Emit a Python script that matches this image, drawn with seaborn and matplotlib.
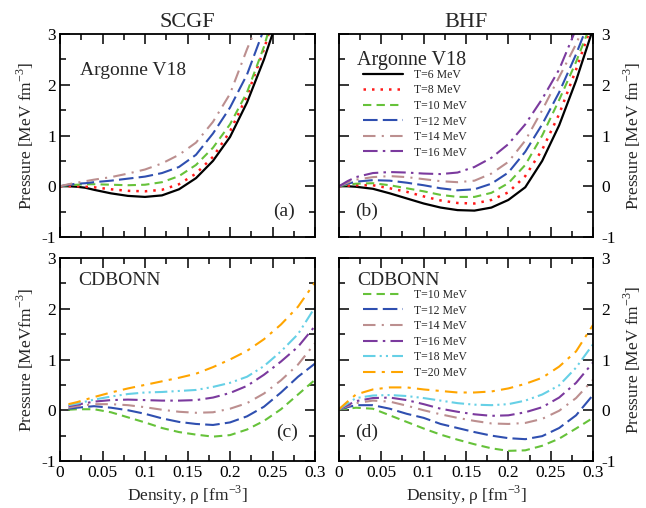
import matplotlib
matplotlib.use("Agg")
import matplotlib.pyplot as plt
from matplotlib.ticker import MultipleLocator, FuncFormatter
import seaborn as sns

rho_a = [0, 0.01, 0.02, 0.03, 0.04, 0.06, 0.08, 0.10, 0.12, 0.14, 0.16, 0.18, 0.20, 0.22, 0.24, 0.26]
rho_b = [0, 0.01, 0.02, 0.04, 0.06, 0.08, 0.10, 0.12, 0.14, 0.16, 0.18, 0.20, 0.22, 0.24, 0.26, 0.28, 0.30]
rho_c = [0.01, 0.02, 0.04, 0.06, 0.08, 0.10, 0.12, 0.14, 0.16, 0.18, 0.20, 0.22, 0.24, 0.26, 0.28, 0.30]
rho_d = [0, 0.01, 0.02, 0.04, 0.06, 0.08, 0.10, 0.12, 0.14, 0.16, 0.18, 0.20, 0.22, 0.24, 0.26, 0.28, 0.30]

temps_av18 = [6, 8, 10, 12, 14, 16]
temps_cdbonn = [10, 12, 14, 16, 18, 20]

# (a) SCGF, Argonne V18
scgf_av18_t6 = [0, 0, -0.01, -0.03, -0.07, -0.14, -0.19, -0.21, -0.18, -0.06, 0.16, 0.50, 0.97, 1.65, 2.50, 3.50]
scgf_av18_t8 = [0, 0, 0, -0.01, -0.02, -0.06, -0.09, -0.10, -0.07, 0.04, 0.25, 0.58, 1.08, 1.78, 2.70, 3.80]
scgf_av18_t10 = [0, 0.02, 0.03, 0.04, 0.04, 0.03, 0.02, 0.03, 0.08, 0.20, 0.42, 0.76, 1.22, 1.85, 2.75, 3.90]
scgf_av18_t12 = [0, 0.03, 0.05, 0.06, 0.08, 0.11, 0.15, 0.19, 0.26, 0.38, 0.62, 1.04, 1.55, 2.20, 3.10, 4.10]
scgf_av18_t14 = [0, 0.04, 0.07, 0.10, 0.13, 0.18, 0.25, 0.33, 0.45, 0.62, 0.86, 1.27, 1.82, 2.70, 3.50, 4.50]

# (b) BHF, Argonne V18
bhf_av18_t6 = [0, 0, -0.01, -0.05, -0.14, -0.24, -0.34, -0.42, -0.47, -0.48, -0.42, -0.27, -0.02, 0.50, 1.20, 2.08, 3.10]
bhf_av18_t8 = [0, 0.01, 0.02, 0.02, -0.04, -0.11, -0.20, -0.28, -0.33, -0.34, -0.27, -0.12, 0.20, 0.72, 1.42, 2.30, 3.25]
bhf_av18_t10 = [0, 0.03, 0.05, 0.06, 0.02, -0.04, -0.10, -0.17, -0.21, -0.21, -0.13, 0.06, 0.42, 1.00, 1.70, 2.45, 3.30]
bhf_av18_t12 = [0, 0.05, 0.09, 0.12, 0.11, 0.07, 0.02, -0.04, -0.08, -0.06, 0.05, 0.27, 0.68, 1.22, 1.85, 2.60, 3.45]
bhf_av18_t14 = [0, 0.07, 0.13, 0.18, 0.20, 0.18, 0.14, 0.10, 0.08, 0.11, 0.25, 0.48, 0.90, 1.50, 2.15, 2.80, 3.60]
bhf_av18_t16 = [0, 0.10, 0.18, 0.26, 0.28, 0.27, 0.25, 0.24, 0.27, 0.38, 0.56, 0.83, 1.22, 1.72, 2.30, 3.10, 4.00]

# (c) SCGF, CDBONN
scgf_cdb_t10 = [0.01, 0.02, 0.02, -0.04, -0.14, -0.24, -0.35, -0.43, -0.48, -0.52, -0.49, -0.38, -0.21, 0.02, 0.31, 0.60]
scgf_cdb_t12 = [0.03, 0.05, 0.08, 0.05, 0.00, -0.07, -0.16, -0.23, -0.27, -0.29, -0.24, -0.12, 0.07, 0.35, 0.66, 0.92]
scgf_cdb_t14 = [0.05, 0.08, 0.12, 0.12, 0.10, 0.06, 0.01, -0.03, -0.05, -0.04, 0.03, 0.14, 0.33, 0.59, 0.90, 1.32]
scgf_cdb_t16 = [0.08, 0.11, 0.17, 0.20, 0.21, 0.20, 0.19, 0.19, 0.20, 0.25, 0.34, 0.48, 0.70, 0.96, 1.25, 1.66]
scgf_cdb_t18 = [0.10, 0.13, 0.21, 0.27, 0.32, 0.35, 0.36, 0.38, 0.40, 0.46, 0.54, 0.66, 0.87, 1.16, 1.50, 2.03]
scgf_cdb_t20 = [0.12, 0.16, 0.26, 0.35, 0.43, 0.50, 0.57, 0.64, 0.72, 0.85, 1.00, 1.17, 1.40, 1.69, 2.04, 2.52]

# (d) BHF, CDBONN
bhf_cdb_t10 = [0.02, 0.03, 0.05, 0.03, -0.10, -0.23, -0.36, -0.48, -0.58, -0.67, -0.75, -0.80, -0.79, -0.70, -0.56, -0.36, -0.15]
bhf_cdb_t12 = [0.02, 0.06, 0.10, 0.10, 0.03, -0.07, -0.15, -0.27, -0.35, -0.43, -0.50, -0.55, -0.57, -0.51, -0.35, -0.10, 0.30]
bhf_cdb_t14 = [0.02, 0.08, 0.14, 0.19, 0.17, 0.09, 0.00, -0.08, -0.15, -0.21, -0.26, -0.27, -0.25, -0.17, -0.01, 0.24, 0.60]
bhf_cdb_t16 = [0.02, 0.10, 0.18, 0.24, 0.25, 0.20, 0.12, 0.03, -0.03, -0.08, -0.11, -0.10, -0.04, 0.06, 0.25, 0.54, 0.94]
bhf_cdb_t18 = [0.02, 0.13, 0.24, 0.29, 0.30, 0.28, 0.24, 0.19, 0.14, 0.11, 0.10, 0.12, 0.19, 0.31, 0.49, 0.84, 1.30]
bhf_cdb_t20 = [0.02, 0.17, 0.31, 0.41, 0.45, 0.45, 0.41, 0.38, 0.35, 0.35, 0.37, 0.43, 0.52, 0.64, 0.86, 1.16, 1.68]

STYLE = {
    6: ("black", "-", 1.6),
    8: ("#ff1a1a", (0, (1, 2.4)), 1.8),
    10: ("#66c23a", (0, (4, 2.5)), 1.5),
    12: ("#2f4fb0", (0, (7, 2.5)), 1.5),
    14: ("#bc8f8f", (0, (6, 3, 1, 3)), 1.5),
    16: ("#7b3a9e", (0, (7, 2.5, 1.2, 2.5)), 1.5),
    18: ("#66d0e6", (0, (6, 2, 1, 2, 1, 2)), 1.5),
    20: ("#ffa500", (0, (6, 3, 1.5, 3)), 1.5),
}

sns.set_style("ticks")
plt.rcParams["font.family"] = ["Liberation Serif", "DejaVu Serif"]
plt.rcParams["mathtext.fontset"] = "custom"
plt.rcParams["mathtext.rm"] = "Liberation Serif"
plt.rcParams["axes.unicode_minus"] = False

fig = plt.figure(figsize=(6.46, 5.08), dpi=100)
W, H = 646.0, 508.0
ax_a = fig.add_axes([60 / W, 1 - 237 / H, 255 / W, 203 / H])
ax_b = fig.add_axes([339 / W, 1 - 237 / H, 254 / W, 203 / H])
ax_c = fig.add_axes([60 / W, 1 - 461 / H, 255 / W, 203 / H])
ax_d = fig.add_axes([339 / W, 1 - 461 / H, 254 / W, 203 / H])


def draw(ax, rho, curves, temps):
    for T, p in zip(temps, curves):
        color, ls, lw = STYLE[T]
        sns.lineplot(x=rho, y=p, ax=ax, color=color, linestyle=ls, linewidth=lw,
                     label=f"T={T} MeV", sort=False)


draw(ax_a, rho_a, [scgf_av18_t6, scgf_av18_t8, scgf_av18_t10, scgf_av18_t12, scgf_av18_t14], temps_av18)
draw(ax_b, rho_b, [bhf_av18_t6, bhf_av18_t8, bhf_av18_t10, bhf_av18_t12, bhf_av18_t14, bhf_av18_t16], temps_av18)
draw(ax_c, rho_c, [scgf_cdb_t10, scgf_cdb_t12, scgf_cdb_t14, scgf_cdb_t16, scgf_cdb_t18, scgf_cdb_t20], temps_cdbonn)
draw(ax_d, rho_d, [bhf_cdb_t10, bhf_cdb_t12, bhf_cdb_t14, bhf_cdb_t16, bhf_cdb_t18, bhf_cdb_t20], temps_cdbonn)

fmt = FuncFormatter(lambda v, pos: f"{v:g}")
for ax in (ax_a, ax_b, ax_c, ax_d):
    ax.set_xlim(0, 0.3)
    ax.set_ylim(-1, 3)
    ax.xaxis.set_major_locator(MultipleLocator(0.05))
    ax.xaxis.set_minor_locator(MultipleLocator(0.025))
    ax.yaxis.set_major_locator(MultipleLocator(1))
    ax.yaxis.set_minor_locator(MultipleLocator(0.5))
    ax.xaxis.set_major_formatter(fmt)
    ax.yaxis.set_major_formatter(fmt)
    ax.tick_params(which="both", direction="in", top=True, bottom=True, left=True, right=True,
                   width=1.1, labelsize=12.5, pad=3, colors="black")
    ax.tick_params(which="major", length=7)
    ax.tick_params(which="minor", length=4)
    for sp in ax.spines.values():
        sp.set_linewidth(1.3)
        sp.set_color("black")
    ax.set_xlabel("")
    ax.set_ylabel("")
    if ax.get_legend() is not None:
        ax.get_legend().remove()

for ax in (ax_a, ax_b):
    ax.tick_params(labelbottom=False)
for ax in (ax_b, ax_d):
    ax.tick_params(axis="y", labelleft=False, labelright=True, pad=6)
    ax.yaxis.set_label_position("right")

ax_a.set_title("SCGF", fontsize=16, pad=5)
ax_b.set_title("BHF", fontsize=16, pad=5)

ax_a.set_ylabel("Pressure [MeV fm$^{-3}$]", fontsize=12.5, labelpad=4)
ax_b.set_ylabel("Pressure [MeV fm$^{-3}$]", fontsize=12.5, labelpad=4)
ax_c.set_ylabel("Pressure [MeVfm$^{-3}$]", fontsize=12.5, labelpad=4)
ax_d.set_ylabel("Pressure [MeV fm$^{-3}$]", fontsize=12.5, labelpad=4)
ax_c.set_xlabel("Density, ρ [fm$^{-3}$]", fontsize=12.5, labelpad=2)
ax_d.set_xlabel("Density, ρ [fm$^{-3}$]", fontsize=12.5, labelpad=2)

ax_a.text(0.078, 0.82, "Argonne V18", transform=ax_a.transAxes, fontsize=14, va="center")
ax_b.text(0.07, 0.87, "Argonne V18", transform=ax_b.transAxes, fontsize=14.5, va="center")
ax_c.text(0.07, 0.89, "CDBONN", transform=ax_c.transAxes, fontsize=14, va="center")
ax_d.text(0.07, 0.89, "CDBONN", transform=ax_d.transAxes, fontsize=14, va="center")
ax_a.text(0.88, 0.125, "(a)", transform=ax_a.transAxes, fontsize=14, ha="center", va="center")
ax_b.text(0.11, 0.125, "(b)", transform=ax_b.transAxes, fontsize=14, ha="center", va="center")
ax_c.text(0.89, 0.143, "(c)", transform=ax_c.transAxes, fontsize=14, ha="center", va="center")
ax_d.text(0.11, 0.143, "(d)", transform=ax_d.transAxes, fontsize=14, ha="center", va="center")

for ax, ytop in ((ax_b, 0.828), (ax_d, 0.847)):
    ax.legend(loc="upper left", bbox_to_anchor=(0.094, ytop), frameon=False, fontsize=8.5,
              handlelength=3.4, handletextpad=0.9, labelspacing=0.3, borderpad=0, borderaxespad=0)

fig.savefig("out.png", dpi=100)
